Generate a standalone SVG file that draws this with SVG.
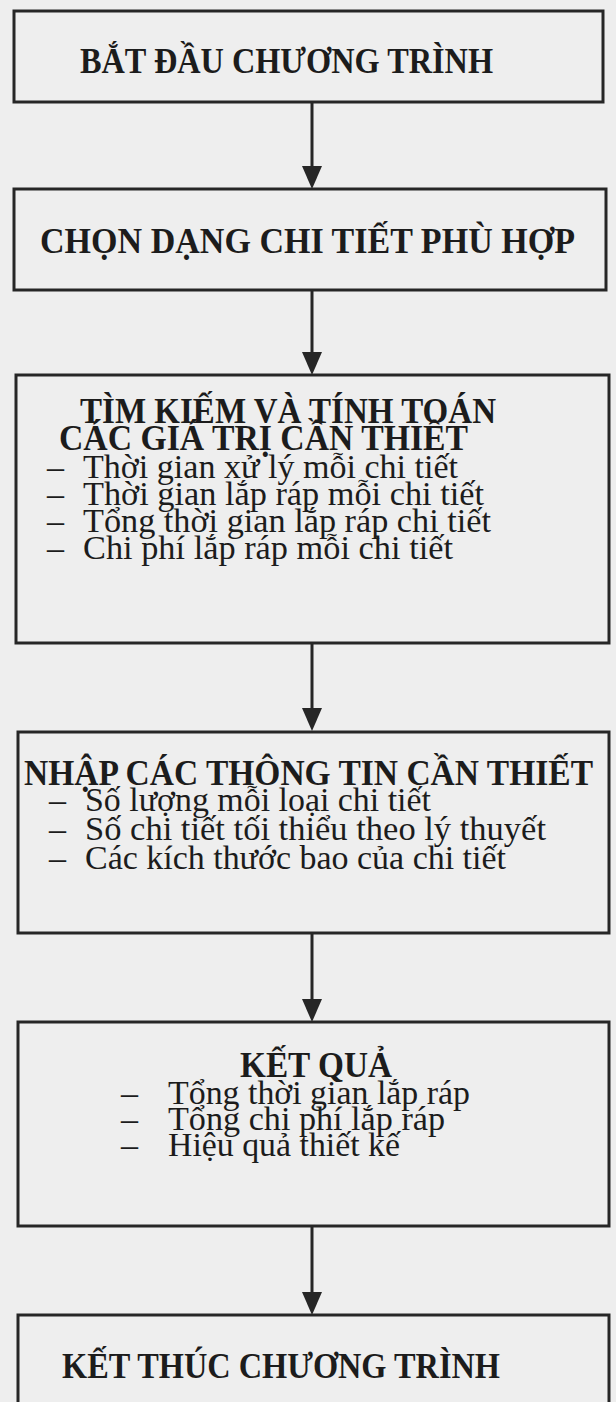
<svg xmlns="http://www.w3.org/2000/svg" width="616" height="1402" viewBox="0 0 616 1402">
<style>
.box{fill:none;stroke:#262626;stroke-width:3}
.t{font-family:"Liberation Serif","Times New Roman",serif;fill:#1c1c1c}
.b{font-weight:bold;font-size:36px}
.i{font-size:34px}
.conn{stroke:#262626;stroke-width:3;fill:none}
.head{fill:#262626}
</style>
<rect width="616" height="1402" fill="#eeeeee"/>
<g id="connectors">
<line class="conn" x1="312" y1="102" x2="312" y2="170"/>
<polygon class="head" points="302,166 322,166 312,189"/>
<line class="conn" x1="312" y1="290" x2="312" y2="356"/>
<polygon class="head" points="302,352 322,352 312,375"/>
<line class="conn" x1="312" y1="643" x2="312" y2="712"/>
<polygon class="head" points="302,708 322,708 312,731"/>
<line class="conn" x1="312" y1="933" x2="312" y2="1003"/>
<polygon class="head" points="302,999 322,999 312,1022"/>
<line class="conn" x1="312" y1="1226" x2="312" y2="1296"/>
<polygon class="head" points="302,1292 322,1292 312,1315"/>
</g>
<g id="n1">
<rect class="box" x="14" y="11" width="589" height="91"/>
<text class="t b" x="80" y="73" textLength="413" lengthAdjust="spacingAndGlyphs">BẮT ĐẦU CHƯƠNG TRÌNH</text>
</g>
<g id="n2">
<rect class="box" x="14" y="189" width="592" height="101"/>
<text class="t b" x="40" y="253" textLength="535" lengthAdjust="spacingAndGlyphs">CHỌN DẠNG CHI TIẾT PHÙ HỢP</text>
</g>
<g id="n3">
<rect class="box" x="16" y="375" width="593" height="268"/>
<text class="t b" x="80" y="423" textLength="416" lengthAdjust="spacingAndGlyphs">TÌM KIẾM VÀ TÍNH TOÁN</text>
<text class="t b" x="59" y="450" textLength="409" lengthAdjust="spacingAndGlyphs">CÁC GIÁ TRỊ CẦN THIẾT</text>
<text class="t i" x="47" y="478">–</text>
<text class="t i" x="83" y="478" textLength="375" lengthAdjust="spacingAndGlyphs">Thời gian xử lý mỗi chi tiết</text>
<text class="t i" x="47" y="505">–</text>
<text class="t i" x="83" y="505" textLength="401" lengthAdjust="spacingAndGlyphs">Thời gian lắp ráp mỗi chi tiết</text>
<text class="t i" x="47" y="532">–</text>
<text class="t i" x="83" y="532" textLength="408" lengthAdjust="spacingAndGlyphs">Tổng thời gian lắp ráp chi tiết</text>
<text class="t i" x="47" y="559">–</text>
<text class="t i" x="83" y="559" textLength="370" lengthAdjust="spacingAndGlyphs">Chi phí lắp ráp mỗi chi tiết</text>
</g>
<g id="n4">
<rect class="box" x="18" y="732" width="591" height="201"/>
<text class="t b" x="24" y="785" textLength="569" lengthAdjust="spacingAndGlyphs">NHẬP CÁC THÔNG TIN CẦN THIẾT</text>
<text class="t i" x="49" y="811">–</text>
<text class="t i" x="85" y="811" textLength="346" lengthAdjust="spacingAndGlyphs">Số lượng mỗi loại chi tiết</text>
<text class="t i" x="49" y="840">–</text>
<text class="t i" x="85" y="840" textLength="461" lengthAdjust="spacingAndGlyphs">Số chi tiết tối thiểu theo lý thuyết</text>
<text class="t i" x="49" y="869">–</text>
<text class="t i" x="85" y="869" textLength="421" lengthAdjust="spacingAndGlyphs">Các kích thước bao của chi tiết</text>
</g>
<g id="n5">
<rect class="box" x="18" y="1022" width="591" height="204"/>
<text class="t b" x="240" y="1077" textLength="152" lengthAdjust="spacingAndGlyphs">KẾT QUẢ</text>
<text class="t i" x="121" y="1104">–</text>
<text class="t i" x="168" y="1104" textLength="302" lengthAdjust="spacingAndGlyphs">Tổng thời gian lắp ráp</text>
<text class="t i" x="121" y="1130">–</text>
<text class="t i" x="168" y="1130" textLength="277" lengthAdjust="spacingAndGlyphs">Tổng chi phí lắp ráp</text>
<text class="t i" x="121" y="1156">–</text>
<text class="t i" x="168" y="1156" textLength="232" lengthAdjust="spacingAndGlyphs">Hiệu quả thiết kế</text>
</g>
<g id="n6">
<rect class="box" x="18" y="1315" width="591" height="100"/>
<text class="t b" x="62" y="1378" textLength="438" lengthAdjust="spacingAndGlyphs">KẾT THÚC CHƯƠNG TRÌNH</text>
</g>
</svg>
